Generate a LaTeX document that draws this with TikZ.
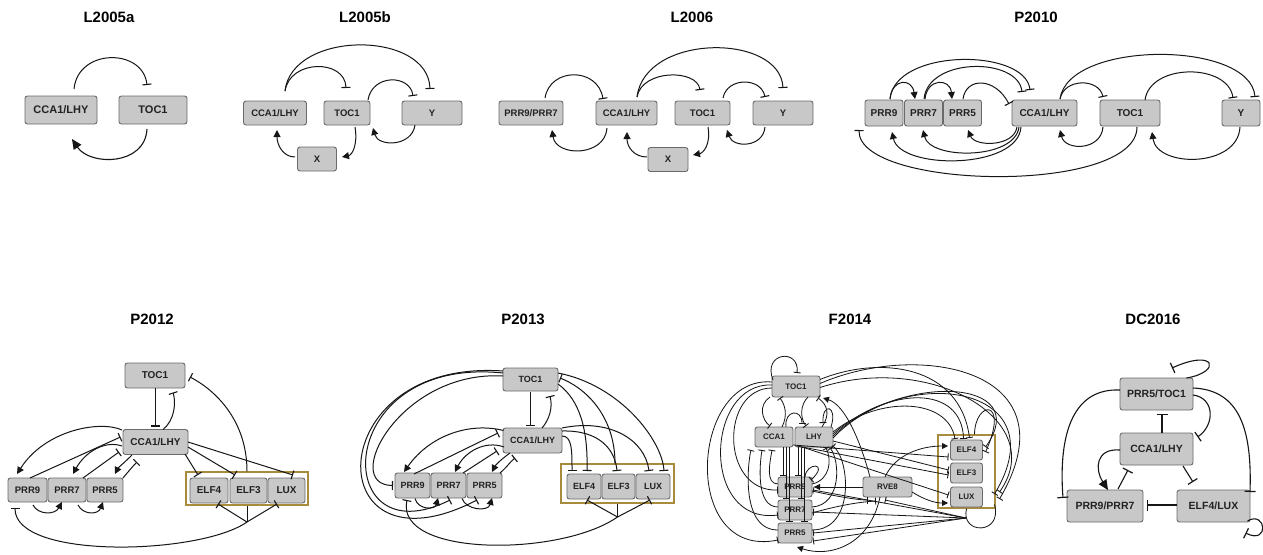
\documentclass[tikz,border=0pt]{standalone}
\usepackage{fontspec}
\setmainfont{Liberation Sans}
\usetikzlibrary{arrows.meta}
\definecolor{nf}{HTML}{C8C8C8}
\definecolor{nb}{HTML}{6A6A6A}
\definecolor{nt}{HTML}{222222}
\definecolor{ln}{HTML}{161616}
\definecolor{gold}{HTML}{A88B3C}
\begin{document}
\begin{tikzpicture}[x=1pt,y=1pt,
  gn/.style={draw=nb, fill=nf, rounded corners=2.5pt, line width=0.9pt, inner sep=0pt, text=nt, font=\bfseries\fontsize{#1}{#1}\selectfont},
  ttl/.style={font=\bfseries\fontsize{15}{15}\selectfont, text=black},
  ecbox/.style={draw=gold, line width=1.2pt, inner sep=0pt},
  plain/.style={line width=1pt, draw=ln},
  inh/.style={line width=1pt, draw=ln, -{Bar[width=9pt,line width=1.1pt]}},
  act/.style={line width=1pt, draw=ln, -{Triangle[length=7pt,width=7pt]}},
  inhS/.style={line width=0.8pt, draw=ln, -{Bar[width=7pt,line width=0.9pt]}},
  actS/.style={line width=0.8pt, draw=ln, -{Triangle[length=6pt,width=6pt]}},
  inhL/.style={line width=1.1pt, draw=ln, -{Bar[width=11pt,line width=1.2pt]}},
  actL/.style={line width=1.1pt, draw=ln, -{Triangle[length=10pt,width=9pt]}}
]
\useasboundingbox[fill=white] (0,0) rectangle (1263,-554);

% titles
\node[ttl] (t1) at (109,-17) {L2005a};
\node[ttl] (t2) at (365,-17) {L2005b};
\node[ttl] (t3) at (692,-17) {L2006};
\node[ttl] (t4) at (1036,-17) {P2010};
\node[ttl] (t5) at (152,-319) {P2012};
\node[ttl] (t6) at (523,-319) {P2013};
\node[ttl] (t7) at (850,-319) {F2014};
\node[ttl] (t8) at (1153,-319) {DC2016};

% ---------- L2005a
\node[gn=11, minimum width=72pt, minimum height=28pt] (a1) at (61,-110) {CCA1/LHY};
\node[gn=11, minimum width=68pt, minimum height=28pt] (a2) at (153,-110) {TOC1};
\draw[inh] ([shift={(13,21)}]a1.center) .. controls (78,-48) and (143,-48) .. ([shift={(-6,25)}]a2.center);
\draw[actL] ([shift={(-6,-19)}]a2.center) .. controls (145,-166) and (90,-166) .. ([shift={(11,-29)}]a1.center);

% ---------- L2005b
\node[gn=9.5, minimum width=63pt, minimum height=24pt] (b1) at (275,-113) {CCA1/LHY};
\node[gn=9.5, minimum width=46pt, minimum height=24pt] (b2) at (347,-113) {TOC1};
\node[gn=9.5, minimum width=60pt, minimum height=24pt] (b3) at (432,-113) {Y};
\node[gn=9.5, minimum width=39pt, minimum height=24pt] (b4) at (317,-159) {X};
\draw[inh] ([shift={(10,22)}]b1.center) .. controls (290,-59) and (345,-59) .. ([shift={(-1,25)}]b2.center);
\draw[inh] ([shift={(10,22)}]b1.center) .. controls (292,-30) and (428,-30) .. ([shift={(-2,24)}]b3.center);
\draw[inh] ([shift={(21,13)}]b2.center) .. controls (372,-74) and (410,-74) .. ([shift={(-19,17)}]b3.center);
\draw[act] ([shift={(-17,-12)}]b3.center) .. controls (412,-147) and (378,-147) .. ([shift={(26,-15)}]b2.center);
\draw[act] ([shift={(8,-14)}]b2.center) .. controls (358,-145) and (352,-155) .. ([shift={(25,2)}]b4.center);
\draw[act] ([shift={(-22,2)}]b4.center) .. controls (283,-157) and (277,-145) .. ([shift={(2,-17)}]b1.center);

% ---------- L2006
\node[gn=9.5, minimum width=64pt, minimum height=24pt] (c1) at (531,-113) {PRR9/PRR7};
\node[gn=9.5, minimum width=61pt, minimum height=24pt] (c2) at (626.5,-113) {CCA1/LHY};
\node[gn=9.5, minimum width=55pt, minimum height=24pt] (c3) at (702.5,-113) {TOC1};
\node[gn=9.5, minimum width=60pt, minimum height=24pt] (c4) at (783,-113) {Y};
\node[gn=9.5, minimum width=40pt, minimum height=24pt] (c5) at (668,-159.5) {X};
\draw[inh] ([shift={(14,15)}]c1.center) .. controls (550,-67) and (598,-67) .. ([shift={(-23.5,14)}]c2.center);
\draw[act] ([shift={(-19.5,-15)}]c2.center) .. controls (605,-157) and (556,-157) .. ([shift={(21,-17)}]c1.center);
\draw[inh] ([shift={(10.5,16)}]c2.center) .. controls (642,-69) and (697,-69) .. ([shift={(-2.5,23)}]c3.center);
\draw[inh] ([shift={(10.5,16)}]c2.center) .. controls (645,-33) and (780,-33) .. ([shift={(0,25)}]c4.center);
\draw[inh] ([shift={(20.5,15)}]c3.center) .. controls (727,-77) and (761,-77) .. ([shift={(-18,16)}]c4.center);
\draw[act] ([shift={(-18,-14)}]c4.center) .. controls (763,-148) and (733,-148) .. ([shift={(24.5,-17)}]c3.center);
\draw[act] ([shift={(5.5,-14)}]c3.center) .. controls (711,-145) and (703,-153) .. ([shift={(25,4.5)}]c5.center);
\draw[act] ([shift={(-21,2.5)}]c5.center) .. controls (634,-157) and (627,-147) .. ([shift={(0.5,-19)}]c2.center);

% ---------- P2010
\node[gn=10, minimum width=38pt, minimum height=26pt] (d1) at (884,-113) {PRR9};
\node[gn=10, minimum width=38pt, minimum height=26pt] (d2) at (923.5,-113) {PRR7};
\node[gn=10, minimum width=38pt, minimum height=26pt] (d3) at (962.5,-113) {PRR5};
\node[gn=10, minimum width=65pt, minimum height=26pt] (d4) at (1044.5,-113) {CCA1/LHY};
\node[gn=10, minimum width=60pt, minimum height=26pt] (d5) at (1130,-113) {TOC1};
\node[gn=10, minimum width=38pt, minimum height=26pt] (d6) at (1241,-113) {Y};
\draw[act] ([shift={(6,14)}]d1.center) .. controls (892,-78) and (912,-78) .. ([shift={(-8.5,14)}]d2.center);
\draw[act] ([shift={(1.5,14)}]d2.center) .. controls (927,-78) and (950,-78) .. ([shift={(-10.5,14)}]d3.center);
\draw[inh] ([shift={(6,14)}]d1.center) .. controls (895,-48) and (1025,-48) .. ([shift={(-14.5,23)}]d4.center);
\draw[inh] ([shift={(0.5,14)}]d2.center) .. controls (928,-57) and (1018,-57) .. ([shift={(-22.5,21)}]d4.center);
\draw[inh] ([shift={(0.5,14)}]d3.center) .. controls (966,-77) and (995,-77) .. ([shift={(-35.5,9)}]d4.center);
\draw[act] ([shift={(-27.5,-14)}]d4.center) .. controls (1014,-147) and (975,-147) .. ([shift={(5.5,-17)}]d3.center);
\draw[act] ([shift={(-25.5,-14)}]d4.center) .. controls (1015,-160) and (930,-160) .. ([shift={(-0.5,-17)}]d2.center);
\draw[act] ([shift={(-23.5,-14)}]d4.center) .. controls (1018,-170) and (900,-170) .. ([shift={(8,-19)}]d1.center);
\draw[inh] ([shift={(7,-14)}]d5.center) .. controls (1137,-195) and (858,-190) .. ([shift={(-25,-17)}]d1.center);
\draw[inh] ([shift={(15.5,14)}]d4.center) .. controls (1064,-78) and (1099,-78) .. ([shift={(-27,16)}]d5.center);
\draw[inh] ([shift={(15.5,14)}]d4.center) .. controls (1068,-40) and (1250,-40) .. ([shift={(14,16)}]d6.center);
\draw[inh] ([shift={(15,13)}]d5.center) .. controls (1150,-63) and (1228,-63) .. ([shift={(-8,15)}]d6.center);
\draw[act] ([shift={(-27,-14)}]d5.center) .. controls (1101,-151) and (1065,-151) .. ([shift={(15.5,-17)}]d4.center);
\draw[act] ([shift={(-1,-14)}]d6.center) .. controls (1238,-168) and (1157,-168) .. ([shift={(22,-19)}]d5.center);

% ---------- P2012
\node[ecbox, minimum width=122pt, minimum height=33pt] (ec1) at (247,-488.5) {};
\node[gn=10, minimum width=60pt, minimum height=25pt] (e1) at (155,-375.5) {TOC1};
\node[gn=10, minimum width=65pt, minimum height=25pt] (e2) at (155.5,-442) {CCA1/LHY};
\node[gn=9.5, minimum width=39pt, minimum height=24pt] (e3) at (27.5,-490) {PRR9};
\node[gn=9.5, minimum width=38pt, minimum height=24pt] (e4) at (67,-490) {PRR7};
\node[gn=9.5, minimum width=36pt, minimum height=24pt] (e5) at (105,-490) {PRR5};
\node[gn=10, minimum width=38pt, minimum height=25pt] (e6) at (209,-490.5) {ELF4};
\node[gn=10, minimum width=37pt, minimum height=25pt] (e7) at (248.5,-490.5) {ELF3};
\node[gn=10, minimum width=37pt, minimum height=25pt] (e8) at (286.5,-490.5) {LUX};
\draw[inh] ([shift={(0,-12.5)}]e1.center) -- ([shift={(-0.5,15.5)}]e2.center);
\draw[inh] ([shift={(7.5,12.5)}]e2.center) .. controls (175,-420) and (176,-402) .. ([shift={(18,-17)}]e1.center);
\draw[inh] (ec1.north) .. controls (247,-420) and (215,-390) .. ([shift={(35,-1.5)}]e1.center);
\draw[inh] ([shift={(32.5,0)}]e2.center) -- ([shift={(6.5,15.5)}]e8.center);
\draw[inh] ([shift={(32.5,-5)}]e2.center) -- ([shift={(-13.5,15.5)}]e7.center);
\draw[inh] ([shift={(29.5,-12)}]e2.center) -- ([shift={(-11,15.5)}]e6.center);
\draw[act] ([shift={(-33.5,12)}]e2.center) .. controls (100,-420) and (45,-430) .. ([shift={(-10.5,16)}]e3.center);
\draw[inh] ([shift={(2.5,12)}]e3.center) -- ([shift={(-35,5)}]e2.center);
\draw[act] ([shift={(-33.5,-4)}]e2.center) .. controls (105,-440) and (85,-452) .. ([shift={(6,16)}]e4.center);
\draw[inh] ([shift={(16,12)}]e4.center) -- ([shift={(-36.5,-10)}]e2.center);
\draw[act] ([shift={(-23.5,-13)}]e2.center) .. controls (125,-462) and (118,-468) .. ([shift={(10,16)}]e5.center);
\draw[inh] ([shift={(18,12)}]e5.center) .. controls (128,-472) and (133,-466) .. ([shift={(-18.5,-20)}]e2.center);
\draw[act] ([shift={(5.5,-15)}]e3.center) .. controls (38,-515) and (55,-515) .. ([shift={(-5,-12)}]e4.center);
\draw[act] ([shift={(11,-15)}]e4.center) .. controls (83,-515) and (98,-515) .. ([shift={(-2,-12)}]e5.center);
\coordinate (j1) at (247,-522);
\draw[plain] (ec1.south) -- (j1);
\draw[inh] (j1) -- ([shift={(9,-13.5)}]e6.center);
\draw[inh] (j1) -- ([shift={(-9.5,-13.5)}]e8.center);
\draw[inh] (j1) .. controls (200,-555) and (15,-560) .. ([shift={(-12.5,-18)}]e3.center);

% ---------- P2013
\node[ecbox, minimum width=113pt, minimum height=39pt] (ec2) at (617.5,-483.5) {};
\node[gn=9, minimum width=55pt, minimum height=23pt] (f1) at (530.5,-379.5) {TOC1};
\node[gn=9, minimum width=59pt, minimum height=25pt] (f2) at (532.5,-440.5) {CCA1/LHY};
\node[gn=9, minimum width=35pt, minimum height=25pt] (f3) at (412.5,-485.5) {PRR9};
\node[gn=9, minimum width=35pt, minimum height=25pt] (f4) at (448.5,-485.5) {PRR7};
\node[gn=9, minimum width=35pt, minimum height=25pt] (f5) at (484.5,-485.5) {PRR5};
\node[gn=9, minimum width=34pt, minimum height=25pt] (f6) at (584,-486.5) {ELF4};
\node[gn=9, minimum width=33pt, minimum height=25pt] (f7) at (618.5,-486.5) {ELF3};
\node[gn=9, minimum width=34pt, minimum height=25pt] (f8) at (653,-486.5) {LUX};
\draw[inh] ([shift={(-0.5,-12.5)}]f1.center) -- ([shift={(-2.5,14.5)}]f2.center);
\draw[inh] ([shift={(9.5,12.5)}]f2.center) .. controls (549,-420) and (553,-408) .. ([shift={(19.5,-16.5)}]f1.center);
\draw[act] ([shift={(-29,10)}]f2.center) .. controls (470,-422) and (430,-435) .. ([shift={(-8.5,13.5)}]f3.center);
\draw[inh] ([shift={(1.5,11.5)}]f3.center) -- ([shift={(-34.5,7.5)}]f2.center);
\draw[act] ([shift={(-28.5,-6.5)}]f2.center) .. controls (485,-440) and (465,-452) .. ([shift={(6.5,13.5)}]f4.center);
\draw[inh] ([shift={(14.5,12.5)}]f4.center) -- ([shift={(-35.5,-10.5)}]f2.center);
\draw[act] ([shift={(-22.5,-12.5)}]f2.center) .. controls (500,-460) and (495,-466) .. ([shift={(7.5,13.5)}]f5.center);
\draw[inh] ([shift={(15.5,12.5)}]f5.center) .. controls (507,-467) and (510,-462) .. ([shift={(-17.5,-17.5)}]f2.center);
\draw[inh] ([shift={(29.5,4.5)}]f2.center) .. controls (572,-436) and (572,-450) .. ([shift={(-12,15.5)}]f6.center);
\draw[inh] ([shift={(27.5,-4.5)}]f1.center) .. controls (580,-400) and (588,-430) .. ([shift={(3,15.5)}]f6.center);
\draw[inh] ([shift={(29.5,9.5)}]f2.center) .. controls (600,-430) and (615,-450) .. ([shift={(-1.5,15.5)}]f7.center);
\draw[inh] ([shift={(29.5,12.5)}]f2.center) .. controls (610,-418) and (645,-440) .. ([shift={(-4,15.5)}]f8.center);
\draw[inh] ([shift={(27.5,6.5)}]f1.center) .. controls (620,-385) and (662,-440) .. ([shift={(11,15.5)}]f8.center);
\draw[inh] ([xshift=-2.5pt]ec2.north) .. controls (615,-420) and (590,-390) .. ([shift={(29.5,1.5)}]f1.center);
\coordinate (j2) at (617.5,-517);
\draw[plain] (ec2.south) -- (j2);
\draw[inh] (j2) -- ([shift={(3,-13.5)}]f6.center);
\draw[inh] (j2) -- ([shift={(-3,-13.5)}]f8.center);
\draw[inh] (j2) .. controls (560,-557) and (395,-557) .. ([shift={(-5.5,-14.5)}]f3.center);
\draw[inh] ([shift={(-27.5,3.5)}]f1.center) .. controls (400,-370) and (340,-485) .. ([shift={(-19.5,0)}]f3.center);
\draw[inh] ([shift={(-27.5,6.5)}]f1.center) .. controls (330,-355) and (330,-560) .. ([shift={(1.5,-14.5)}]f4.center);
\draw[inh] ([shift={(-27.5,8.5)}]f1.center) .. controls (318,-358) and (318,-582) .. ([shift={(-7.5,-14.5)}]f5.center);
\draw[act] ([shift={(2.5,-13)}]f3.center) .. controls (418,-510) and (435,-510) .. ([shift={(-10.5,-12.5)}]f4.center);
\draw[act] ([shift={(13.5,-13)}]f4.center) .. controls (466,-510) and (488,-512) .. ([shift={(7.5,-12.5)}]f5.center);

% ---------- F2014
\node[ecbox, minimum width=57pt, minimum height=73pt] (ec3) at (966.5,-471.5) {};
\node[gn=8, minimum width=48pt, minimum height=21pt] (g1) at (796,-386.5) {TOC1};
\node[gn=8, minimum width=38pt, minimum height=20pt] (g2) at (774,-437) {CCA1};
\node[gn=8, minimum width=38pt, minimum height=20pt] (g3) at (814,-437) {LHY};
\node[gn=8, minimum width=34pt, minimum height=20pt] (g4) at (795,-487) {PRR9};
\node[gn=8, minimum width=34pt, minimum height=20pt] (g5) at (795,-510) {PRR7};
\node[gn=8, minimum width=34pt, minimum height=20pt] (g6) at (795,-533) {PRR5};
\node[gn=8, minimum width=49pt, minimum height=20pt] (g7) at (887.5,-487) {RVE8};
\node[gn=8, minimum width=32pt, minimum height=20pt] (g8) at (966.5,-450) {ELF4};
\node[gn=8, minimum width=32pt, minimum height=20pt] (g9) at (966.5,-473) {ELF3};
\node[gn=8, minimum width=32pt, minimum height=20pt] (g10) at (966.5,-497) {LUX};
\draw[inhS] ([shift={(-23,6.5)}]g1.center) .. controls (762,-352) and (800,-348) .. ([shift={(1,13.5)}]g1.center);
\draw[inhS] ([shift={(-24,4.5)}]g1.center) .. controls (690,-375) and (680,-560) .. ([shift={(-17,-7)}]g6.center);
\draw[inhS] ([shift={(-24,1.5)}]g1.center) .. controls (705,-382) and (700,-525) .. ([shift={(-17,-5)}]g5.center);
\draw[inhS] ([shift={(-24,-1.5)}]g1.center) .. controls (720,-388) and (720,-492) .. ([shift={(-17,-3)}]g4.center);
\draw[inhS] ([shift={(-26,-10.5)}]g1.center) .. controls (758,-405) and (762,-420) .. ([shift={(-4,11)}]g2.center);
\draw[inhS] ([shift={(8,10)}]g2.center) .. controls (788,-415) and (785,-405) .. ([shift={(-16,-11.5)}]g1.center);
\draw[inhS] ([shift={(12,-10.5)}]g1.center) .. controls (800,-405) and (800,-418) .. ([shift={(-8,11)}]g3.center);
\draw[inhS] ([shift={(8,10)}]g3.center) .. controls (830,-415) and (828,-405) .. ([shift={(22,-11.5)}]g1.center);
\draw[inhS] ([shift={(12,10)}]g2.center) .. controls (784,-410) and (802,-408) .. ([shift={(-12,13)}]g3.center);
\draw[inhS] ([shift={(17,10)}]g3.center) .. controls (838,-405) and (822,-402) .. ([shift={(9,14)}]g3.center);
\draw[inhS] ([shift={(9,-10)}]g2.center) -- ([shift={(-12,11)}]g4.center);
\draw[inhS] ([shift={(12,-10)}]g2.center) -- ([shift={(-9,11)}]g5.center);
\draw[inhS] ([shift={(15,-10)}]g2.center) -- ([shift={(-6,11)}]g6.center);
\draw[inhS] ([shift={(-16,-10)}]g3.center) -- ([shift={(3,11)}]g4.center);
\draw[inhS] ([shift={(-13,-10)}]g3.center) -- ([shift={(6,11)}]g5.center);
\draw[inhS] ([shift={(-10,-10)}]g3.center) -- ([shift={(9,11)}]g6.center);
\draw[inhS] ([shift={(-17,3)}]g4.center) .. controls (765,-484) and (770,-462) .. ([shift={(-2,-13)}]g2.center);
\draw[inhS] ([shift={(-17,3)}]g5.center) .. controls (755,-507) and (760,-462) .. ([shift={(-12,-13)}]g2.center);
\draw[inhS] ([shift={(-17,3)}]g6.center) .. controls (740,-530) and (748,-462) .. ([shift={(-23,-13)}]g2.center);
\draw[inhS] ([shift={(17,3)}]g4.center) .. controls (830,-480) and (832,-460) .. ([shift={(12,-11)}]g3.center);
\draw[inhS] ([shift={(17,3)}]g5.center) .. controls (842,-505) and (840,-460) .. ([shift={(16,-11)}]g3.center);
\draw[inhS] ([shift={(17,3)}]g6.center) .. controls (855,-530) and (850,-460) .. ([shift={(19,-9)}]g3.center);
\draw[inhS] ([shift={(10,10)}]g4.center) .. controls (806,-462) and (830,-462) .. ([shift={(16,7)}]g4.center);
\draw[inhS] ([shift={(19,5)}]g3.center) .. controls (880,-395) and (948,-398) .. ([shift={(-11.5,11)}]g8.center);
\draw[inhS] ([shift={(19,3)}]g3.center) .. controls (890,-385) and (962,-385) .. ([shift={(-3,11)}]g8.center);
\draw[inhS] ([shift={(19,1)}]g3.center) .. controls (900,-372) and (1035,-378) .. ([shift={(19,3)}]g8.center);
\draw[inhS] ([shift={(19,-1)}]g3.center) .. controls (905,-362) and (1060,-385) .. ([shift={(28,3)}]g10.center);
\draw[inhS] ([shift={(19,-8)}]g2.center) -- ([shift={(-18,-7)}]g8.center);
\draw[inhS] ([shift={(-17,-9)}]g3.center) -- ([shift={(-18,-2)}]g9.center);
\draw[inhS] ([shift={(-12,-10)}]g3.center) -- ([shift={(-18,2)}]g10.center);
\draw[inhS] ([shift={(19,-4)}]g3.center) -- ([shift={(-18,3)}]g9.center);
\draw[inhS] ([shift={(24,7)}]g1.center) .. controls (880,-355) and (960,-365) .. ([shift={(3,12)}]g8.center);
\draw[inhS] ([shift={(24,3)}]g1.center) .. controls (920,-340) and (1075,-370) .. ([shift={(33,-2)}]g10.center);
\draw[inhS] ([shift={(24,-1)}]g1.center) .. controls (930,-352) and (1050,-420) .. ([shift={(33,5)}]g10.center);
\draw[actS] ([shift={(-17.5,10)}]g7.center) .. controls (860,-440) and (845,-405) .. ([shift={(27,-11.5)}]g1.center);
\draw[inhS] ([xshift=8pt]ec3.north) .. controls (975,-400) and (1010,-398) .. ([shift={(19,-2)}]g8.center);
\draw[line width=0.8pt, draw=ln] (ec3.south) .. controls (960,-535) and (1003,-535) .. ([shift={(28,-33)}]ec3.center);
\coordinate (j3) at (966,-518);
\draw[inhS] (j3) -- ([shift={(18,-3)}]g4.center);
\draw[inhS] (j3) -- ([shift={(18,-2)}]g5.center);
\draw[inhS] (j3) -- ([shift={(18,0)}]g6.center);
\draw[inhS] (j3) -- ([shift={(18,-8)}]g6.center);
\draw[inhS] (j3) -- ([shift={(-2.5,-13)}]g7.center);
\draw[actS] ([shift={(-24.5,0)}]g7.center) -- ([shift={(19,0)}]g4.center);
\draw[inhS] ([shift={(17,-4)}]g4.center) .. controls (840,-497) and (858,-500) .. ([shift={(-19.5,-13)}]g7.center);
\draw[inhS] ([shift={(17,-3)}]g5.center) .. controls (840,-505) and (860,-502) .. ([shift={(-11.5,-14)}]g7.center);
\draw[actS] ([shift={(-2.5,10)}]g7.center) .. controls (895,-455) and (920,-446) .. ([shift={(-18.5,4)}]g8.center);
\draw[actS] ([shift={(24.5,-5)}]g7.center) .. controls (925,-500) and (935,-503) .. ([shift={(-18.5,-6)}]g10.center);
\draw[actS] ([shift={(-7.5,-10)}]g7.center) .. controls (870,-545) and (830,-558) .. ([shift={(2,-14)}]g6.center);

% ---------- DC2016
\node[gn=10.5, minimum width=73pt, minimum height=32pt] (h1) at (1156.5,-394) {PRR5/TOC1};
\node[gn=10.5, minimum width=73pt, minimum height=32pt] (h2) at (1156.5,-449) {CCA1/LHY};
\node[gn=10.5, minimum width=76pt, minimum height=32pt] (h3) at (1105,-506) {PRR9/PRR7};
\node[gn=10.5, minimum width=73pt, minimum height=32pt] (h4) at (1213.5,-506) {ELF4/LUX};
\draw[inhL] ([xshift=5.5pt]h2.north) -- ([shift={(5.5,-20)}]h1.center);
\draw[inhL] ([shift={(36.5,-1)}]h1.center) .. controls (1215,-398) and (1215,-425) .. ([shift={(41,12)}]h2.center);
\draw[inhL] ([shift={(30,16)}]h1.center) .. controls (1222,-372) and (1216,-348) .. ([shift={(15.5,26)}]h1.center);
\draw[inhL] ([shift={(-36.5,4)}]h1.center) .. controls (1075,-388) and (1058,-430) .. ([shift={(-42,8)}]h3.center);
\draw[inhL] ([shift={(36.5,6)}]h1.center) .. controls (1240,-390) and (1252,-430) .. ([shift={(36.5,14)}]h4.center);
\draw[actL] ([shift={(-36.5,-1)}]h2.center) .. controls (1095,-448) and (1095,-470) .. ([shift={(3,16)}]h3.center);
\draw[inhL] ([shift={(13,17)}]h3.center) -- ([shift={(-28.5,-21)}]h2.center);
\draw[inhL] ([shift={(26.5,-17)}]h2.center) -- ([shift={(-20.5,24)}]h4.center);
\draw[inhL] ([shift={(-36.5,1)}]h4.center) -- ([shift={(42,1)}]h3.center);
\draw[inhL] ([shift={(34,-15)}]h4.center) .. controls (1266,-510) and (1270,-545) .. ([shift={(32,-27)}]h4.center);
\end{tikzpicture}
\end{document}
